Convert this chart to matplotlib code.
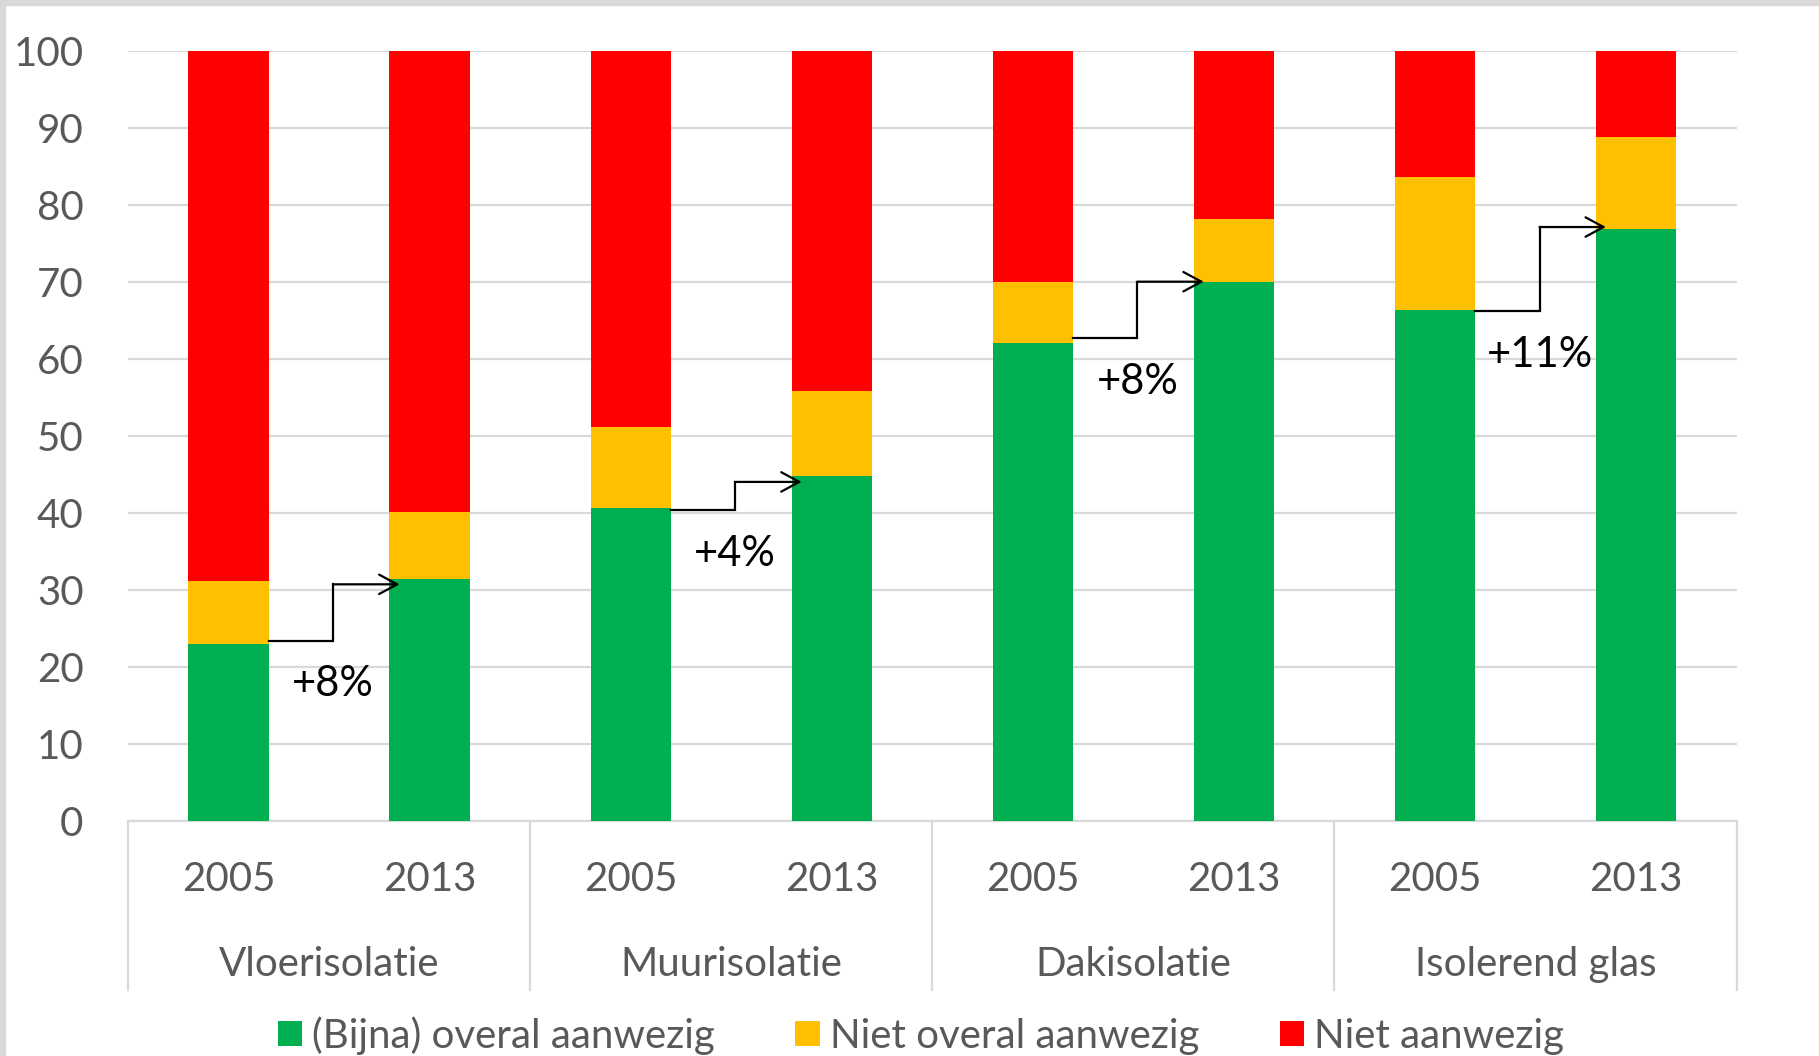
import numpy as np
import matplotlib
matplotlib.use('Agg')
from matplotlib import pyplot as plt
from matplotlib.patches import Rectangle

plt.rcParams['font.family'] = ['Lato', 'DejaVu Sans']

# data
groups = ['Vloerisolatie', 'Muurisolatie', 'Dakisolatie', 'Isolerend glas']
years = ['2005', '2013']
green = [23.0, 31.4, 40.6, 44.8, 62.1, 69.9, 66.3, 76.8]    # (Bijna) overal aanwezig
yellow = [8.1, 8.7, 10.5, 11.0, 7.8, 8.2, 17.3, 12.0]       # Niet overal aanwezig
red = [100 - g - y for g, y in zip(green, yellow)]          # Niet aanwezig
series_names = ['(Bijna) overal aanwezig', 'Niet overal aanwezig', 'Niet aanwezig']
colors = ['#00b050', '#ffc000', '#ff0000']

# stap-pijlen tussen 2005 en 2013
arrow_from = [23.4, 40.35, 62.65, 66.2]
arrow_to = [30.7, 44.0, 70.0, 77.1]
arrow_labels = ['+8%', '+4%', '+8%', '+11%']

grey = '#595959'
fs = 29

fig = plt.figure(figsize=(18.19, 10.56), dpi=100)
ax = fig.add_axes([0.0704, 0.2228, 0.8843, 0.7292])

x = np.arange(len(green))
w = 0.4
ax.bar(x, green, w, color=colors[0], label=series_names[0], zorder=3)
ax.bar(x, yellow, w, bottom=green, color=colors[1], label=series_names[1], zorder=3)
ax.bar(x, red, w, bottom=np.array(green) + np.array(yellow), color=colors[2],
       label=series_names[2], zorder=3)

ax.set_xlim(-0.5, len(green) - 0.5)
ax.set_ylim(0, 100)
ax.set_yticks(range(0, 101, 10))
ax.yaxis.grid(True, color='#d9d9d9', linewidth=1.6)
ax.set_axisbelow(True)
ax.tick_params(axis='y', length=0, pad=32, labelsize=fs, labelcolor=grey)
ax.set_xticks([])
for s in ['top', 'right', 'left']:
    ax.spines[s].set_visible(False)
ax.spines['bottom'].set_color('#d9d9d9')
ax.spines['bottom'].set_linewidth(1.6)

# twee-niveau x-as
tr = ax.get_xaxis_transform()
for i in range(len(green)):
    ax.text(x[i], -0.076, years[i % 2], transform=tr, ha='center', va='center',
            fontsize=fs, color=grey)
for j, g in enumerate(groups):
    ax.text(2 * j + 0.5, -0.187, g, transform=tr, ha='center', va='center',
            fontsize=fs, color=grey)
for xs in np.arange(-0.5, len(green), 2):
    ax.plot([xs, xs], [0, -0.22], transform=tr, color='#d9d9d9', lw=1.6,
            clip_on=False)

# pijlen
for j in range(len(groups)):
    x0 = 2 * j + w / 2
    xe = 2 * j + 0.52
    xt = 2 * j + 0.85
    ax.plot([x0, xe, xe], [arrow_from[j], arrow_from[j], arrow_to[j]],
            color='black', lw=1.6, zorder=4, solid_joinstyle='miter')
    ax.annotate('', xy=(xt, arrow_to[j]), xytext=(xe, arrow_to[j]),
                arrowprops=dict(arrowstyle='->, head_length=1.3, head_width=0.7',
                                color='black', lw=1.6, mutation_scale=10,
                                shrinkA=0, shrinkB=0), zorder=4)
    ax.text(xe, arrow_from[j] - 5.7, arrow_labels[j], ha='center', va='center',
            fontsize=30, color='black', zorder=5)

fig.legend(loc='center', bbox_to_anchor=(0.5063, 0.0195), ncol=3, frameon=False,
           fontsize=fs, labelcolor=grey, handlelength=0.6, handleheight=0.6,
           handletextpad=0.25, columnspacing=2.0)

# grijze rand links en boven
fig.patches.append(Rectangle((0, 1 - 5 / 1056), 1, 5 / 1056, transform=fig.transFigure,
                             color='#d9d9d9', zorder=0))
fig.patches.append(Rectangle((0, 0), 5 / 1819, 1, transform=fig.transFigure,
                             color='#d9d9d9', zorder=0))

fig.savefig('out.png', dpi=100)
